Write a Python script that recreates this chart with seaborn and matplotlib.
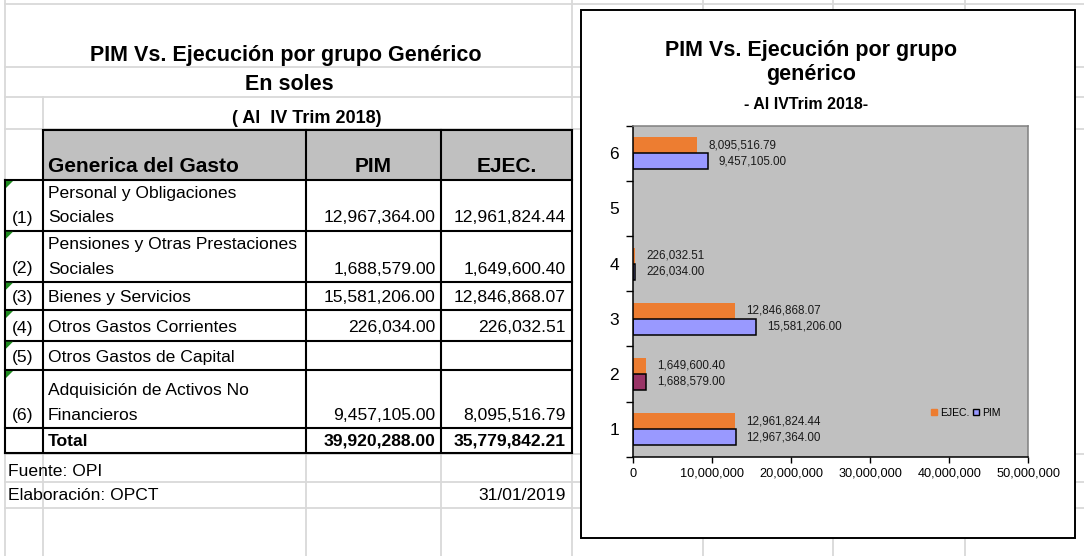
import numpy as np
import pandas as pd
import matplotlib
matplotlib.use("Agg")
import matplotlib.pyplot as plt
from matplotlib.patches import Rectangle, Polygon
from matplotlib.lines import Line2D
from matplotlib.ticker import FixedLocator, FuncFormatter
import seaborn as sns

plt.rcParams["font.family"] = ["Liberation Sans", "DejaVu Sans"]
plt.rcParams["text.color"] = "black"

# ---- data -------------------------------------------------------------
codigos = ["(1)", "(2)", "(3)", "(4)", "(5)", "(6)"]
genericas = [
    "Personal y Obligaciones\nSociales",
    "Pensiones y Otras Prestaciones\nSociales",
    "Bienes y Servicios",
    "Otros Gastos Corrientes",
    "Otros Gastos de Capital",
    "Adquisición de Activos No\nFinancieros",
]
pim = [12967364.00, 1688579.00, 15581206.00, 226034.00, np.nan, 9457105.00]
ejec = [12961824.44, 1649600.40, 12846868.07, 226032.51, np.nan, 8095516.79]
grupos = ["1", "2", "3", "4", "5", "6"]
series = ["EJEC.", "PIM"]
x_ticks = [0, 10_000_000, 20_000_000, 30_000_000, 40_000_000, 50_000_000]

W, H = 1084, 556
fig = plt.figure(figsize=(W / 100, H / 100), dpi=100)

# ---- worksheet layer (pixel coordinates) ------------------------------
bg = fig.add_axes([0, 0, 1, 1], zorder=0)
bg.set_xlim(0, W)
bg.set_ylim(H, 0)
bg.axis("off")

GRID = "#D9D9D9"
PX = 72 / 100  # points per pixel
BODY = 12.6


def put(x, yc, s, size, ha="left", bold=False, **kw):
    """Place a single line of text so its capitals are centred on yc."""
    yb = yc + 0.36 * size / PX
    bg.text(x, yb, s, ha=ha, va="baseline", fontsize=size,
            fontweight="bold" if bold else "normal", **kw)


# light sheet gridlines
for y in [4, 67, 97, 129, 454, 482, 508]:
    bg.plot([5, W], [y, y], color=GRID, lw=1.3, zorder=1)
for x in [5, 572, 703, 833, 965]:
    bg.plot([x, x], [0, H], color=GRID, lw=1.3, zorder=1)
bg.plot([42.7, 42.7], [97, H], color=GRID, lw=1.3, zorder=1)
for x in [306, 441]:
    bg.plot([x, x], [453, H], color=GRID, lw=1.3, zorder=1)

# sheet titles
put(286, 53, "PIM Vs. Ejecución por grupo Genérico", 15.5, ha="center", bold=True)
put(289, 82, "En soles", 15.5, ha="center", bold=True)
put(307, 116.7, "( Al  IV Trim 2018)", 13, ha="center", bold=True)

# table header
x_a, x_b, x_c, x_d, x_e = 5, 42.7, 306, 441, 572
bg.add_patch(Rectangle((x_b, 130), x_e - x_b, 50, facecolor="#C0C0C0",
                       edgecolor="none", zorder=2))
put(48, 165, "Generica del Gasto", 15, bold=True)
put((x_c + x_d) / 2, 165, "PIM", 15, ha="center", bold=True)
put((x_d + x_e) / 2, 165, "EJEC.", 15, ha="center", bold=True)

row_edges = [180, 230.7, 281.7, 310, 340.7, 370, 428, 453]
LW = 1.5
kw_line = dict(color="black", lw=LW, solid_capstyle="projecting", zorder=4)
bg.plot([x_b, x_e], [130, 130], **kw_line)
for y in row_edges:
    bg.plot([x_a, x_e], [y, y], **kw_line)
for x in [x_b, x_c, x_d, x_e]:
    bg.plot([x, x], [130, 453], **kw_line)
bg.plot([x_a, x_a], [180, 453], **kw_line)


def money(v):
    return "" if np.isnan(v) else f"{v:,.2f}"


for i in range(len(codigos)):
    bottom = row_edges[i + 1]
    yl = bottom - 14.5
    lines = genericas[i].split("\n")
    for k, ln in enumerate(lines):
        put(48, yl - 24.3 * (len(lines) - 1 - k), ln, BODY)
    put(23, yl, codigos[i], BODY, ha="center")
    put(435.7, yl, money(pim[i]), BODY, ha="right")
    put(565.7, yl, money(ejec[i]), BODY, ha="right")
    top = row_edges[i]
    bg.add_patch(Polygon([(6, top + 1), (13, top + 1), (6, top + 8)],
                         closed=True, facecolor="#1F8A1F", edgecolor="none",
                         zorder=5))

put(48, 439.5, "Total", BODY, bold=True)
put(435.7, 439.5, f"{np.nansum(pim):,.2f}", BODY, ha="right", bold=True)
put(565.7, 439.5, f"{np.nansum(ejec):,.2f}", BODY, ha="right", bold=True)
put(8, 469.5, "Fuente: OPI", BODY)
put(8, 494, "Elaboración: OPCT", BODY)
put(565.7, 494, "31/01/2019", BODY, ha="right")

# chart frame
bg.add_patch(Rectangle((581, 10), 1075 - 581, 537.5 - 10, facecolor="white",
                       edgecolor="black", lw=1.4, zorder=6))
bg.text(811, 62.5, "PIM Vs. Ejecución por grupo\ngenérico", ha="center",
        va="center", fontsize=15.5, fontweight="bold", linespacing=1.13,
        zorder=7)
put(806, 103, "- Al IVTrim 2018-", 11.5, ha="center", bold=True, zorder=7)

# ---- bar chart --------------------------------------------------------
L, R, T, B = 633, 1028.3, 125.7, 456.7
ax = fig.add_axes([L / W, 1 - B / H, (R - L) / W, (B - T) / H], zorder=2)

df = pd.DataFrame({
    "grupo": grupos * 2,
    "serie": [series[0]] * len(grupos) + [series[1]] * len(grupos),
    "monto": ejec + pim,
})
sns.barplot(data=df, x="monto", y="grupo", hue="serie",
            order=grupos[::-1], hue_order=series,
            palette={"EJEC.": "#ED7D31", "PIM": "#9999FF"},
            orient="h", width=0.58, errorbar=None, saturation=1,
            legend=False, ax=ax)

for bar in ax.containers[0]:
    bar.set_edgecolor("none")
for bar in ax.containers[1]:
    bar.set_edgecolor("black")
    bar.set_linewidth(1.1)
    if np.isclose(bar.get_width(), pim[1]):
        bar.set_facecolor("#993366")

for cont in ax.containers:
    for bar in cont:
        w = bar.get_width()
        if np.isfinite(w) and w > 0:
            ax.annotate(f"{w:,.2f}", (w, bar.get_y() + bar.get_height() / 2),
                        xytext=(8, 0), textcoords="offset points",
                        va="center", ha="left", fontsize=8.4, color="#1a1a1a")

ax.set_facecolor("#C0C0C0")
ax.set_xlim(0, x_ticks[-1])
ax.set_ylim(len(grupos) - 0.5, -0.5)
ax.set_xlabel("")
ax.set_ylabel("")
ax.xaxis.set_major_locator(FixedLocator(x_ticks))
ax.xaxis.set_major_formatter(FuncFormatter(lambda v, p: f"{v:,.0f}"))
ax.tick_params(axis="x", direction="out", length=4, width=1, color="black",
               labelsize=9.2, pad=4, bottom=True)
ax.tick_params(axis="y", which="major", length=0, pad=10, labelsize=12.5,
               left=True)
ax.set_yticks(np.arange(-0.5, len(grupos), 1), minor=True)
ax.tick_params(axis="y", which="minor", length=5, width=1, direction="out",
               color="black", left=True)
for side in ["left", "bottom"]:
    ax.spines[side].set_color("black")
    ax.spines[side].set_linewidth(1.1)
for side in ["top", "right"]:
    ax.spines[side].set_color("#808080")
    ax.spines[side].set_linewidth(1.1)

handles = [
    Line2D([], [], marker="s", ls="", ms=4, mfc="#ED7D31", mec="#ED7D31"),
    Line2D([], [], marker="s", ls="", ms=4, mfc="#9999FF", mec="black", mew=1),
]
ax.legend(handles, series, loc="center", bbox_to_anchor=(0.842, 0.133),
          ncol=2, frameon=False, fontsize=7.5, handlelength=0.6,
          handletextpad=0.3, columnspacing=0.3, borderpad=0)

fig.savefig("out.png", dpi=100)
